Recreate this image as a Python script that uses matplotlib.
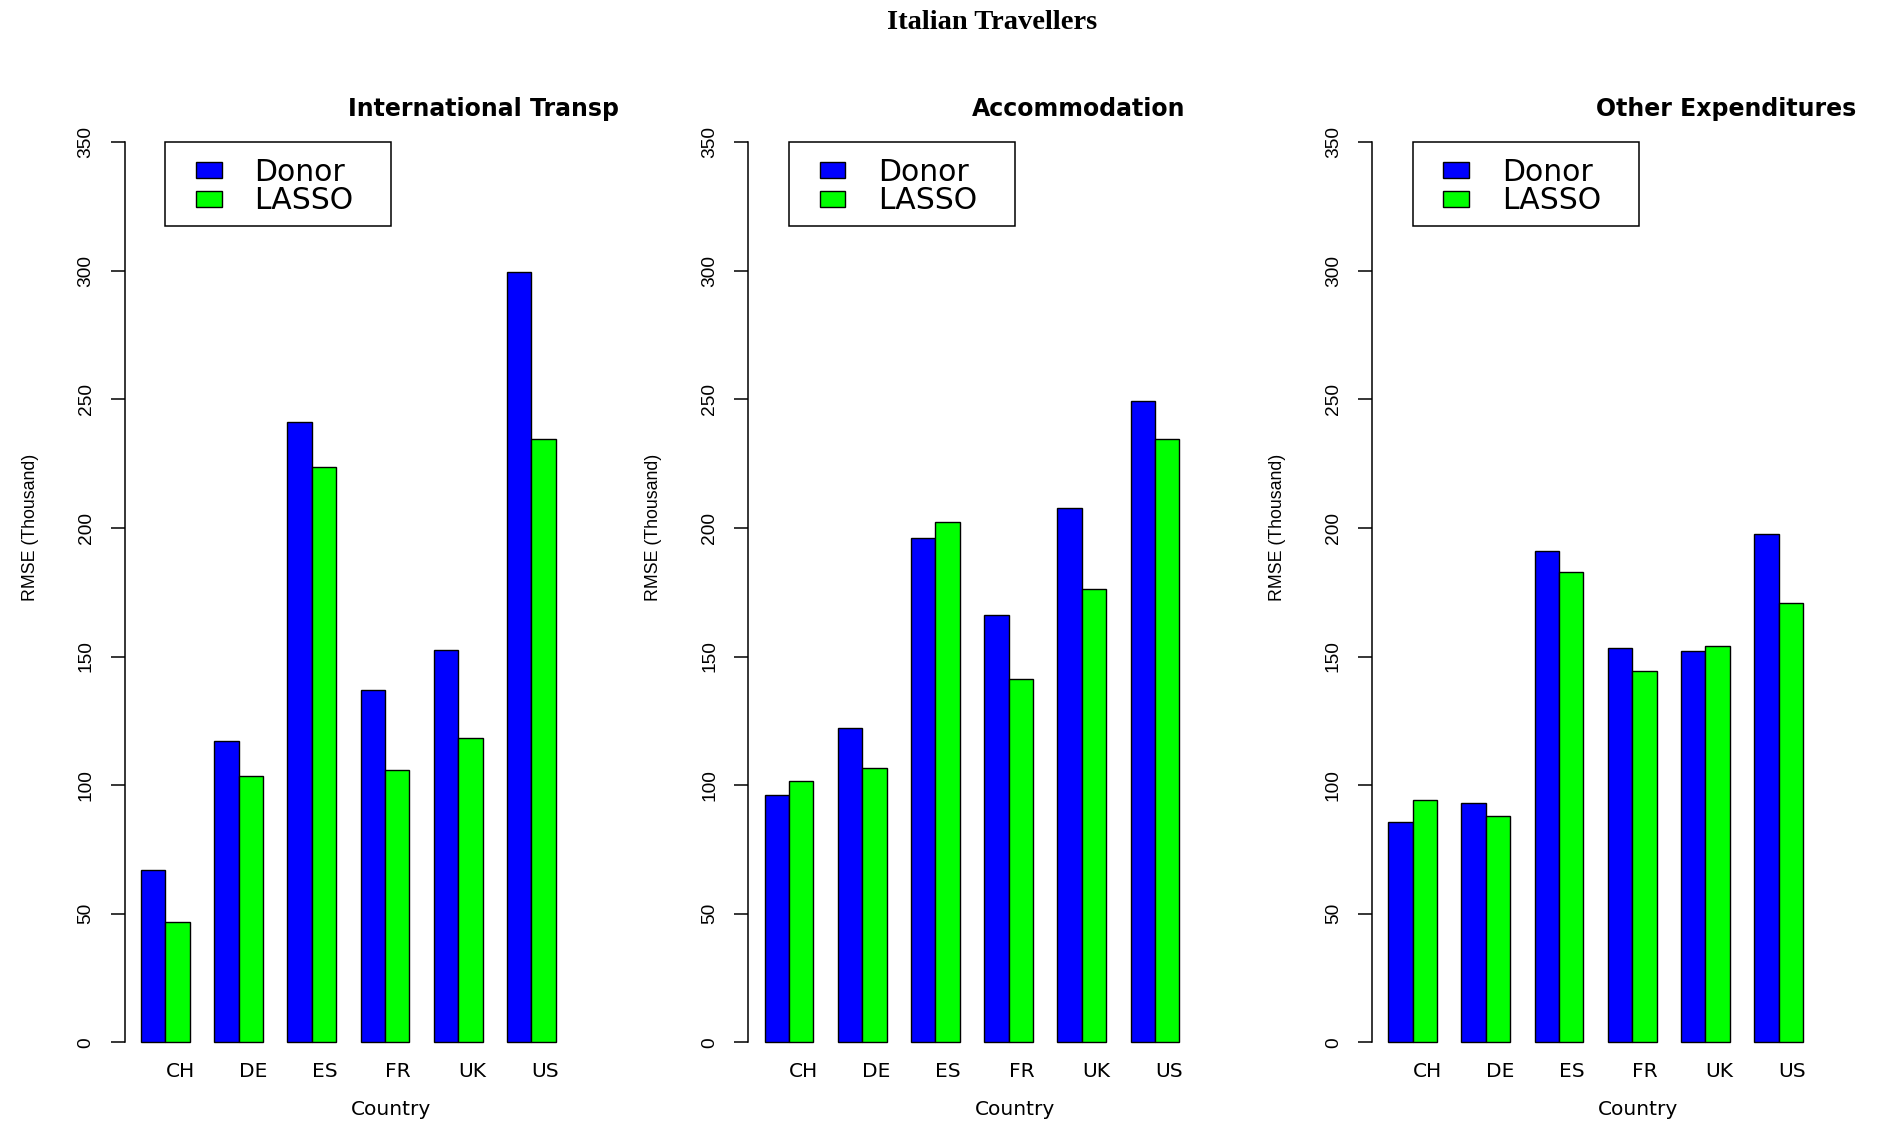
import numpy as np
import matplotlib
matplotlib.use("Agg")
import matplotlib.pyplot as plt
from matplotlib import font_manager
from matplotlib.patches import Rectangle
from matplotlib.transforms import blended_transform_factory

# ---- data -------------------------------------------------------------
countries = ["CH", "DE", "ES", "FR", "UK", "US"]
panel_titles = ["International Transp", "Accommodation", "Other Expenditures"]
series_names = ["Donor", "LASSO"]

transp_donor = [67.0, 117.1, 241.1, 136.9, 152.6, 299.4]
transp_lasso = [46.8, 103.6, 223.5, 105.8, 118.3, 234.7]

accom_donor = [96.2, 122.2, 195.9, 166.1, 207.8, 249.4]
accom_lasso = [101.8, 106.5, 202.1, 141.3, 176.2, 234.7]

other_donor = [85.8, 93.2, 191.1, 153.4, 152.2, 197.8]
other_lasso = [94.2, 88.1, 182.7, 144.3, 153.9, 170.9]

y_ticks = [0, 50, 100, 150, 200, 250, 300, 350]

panels = [
    (panel_titles[0], transp_donor, transp_lasso),
    (panel_titles[1], accom_donor, accom_lasso),
    (panel_titles[2], other_donor, other_lasso),
]

# ---- fonts ------------------------------------------------------------
available = {f.name for f in font_manager.fontManager.ttflist}
narrow = "Liberation Sans Narrow" if "Liberation Sans Narrow" in available else "Liberation Sans"
wide = "DejaVu Sans"
serif = "Liberation Serif"

BLUE = "#0000FF"
GREEN = "#00FF00"

W, H, DPI = 1892, 1122, 100
fig = plt.figure(figsize=(W / DPI, H / DPI), dpi=DPI, facecolor="white")

fig.text(0.5243, 1 - 29.3 / H, "Italian Travellers", ha="center", va="baseline",
         fontsize=20.5, fontweight="bold", family=serif)

ax_w = 447.8 / W
ax_b = 0.03877
ax_h = 0.86684

n = len(countries)
group_start = 1 + 3 * np.arange(n)          # bar-plot layout: 2 bars + 1 gap per group

for i, (title, donor, lasso) in enumerate(panels):
    left = (124.5 + 623.6 * i) / W
    ax = fig.add_axes([left, ax_b, ax_w, ax_h])
    ax.set_facecolor("none")

    b1 = ax.bar(group_start, donor, width=1, align="edge", color=BLUE,
                edgecolor="black", linewidth=1.0, label=series_names[0])
    b2 = ax.bar(group_start + 1, lasso, width=1, align="edge", color=GREEN,
                edgecolor="black", linewidth=1.0, label=series_names[1])

    ax.set_xlim(0.32, 18.68)
    ax.set_ylim(-14, 364)

    for side in ("top", "right", "bottom"):
        ax.spines[side].set_visible(False)
    ax.spines["left"].set_bounds(0, 350)
    ax.spines["left"].set_linewidth(1.1)

    ax.set_xticks([])
    ax.set_yticks(y_ticks)
    ax.set_yticklabels([str(v) for v in y_ticks])
    ax.tick_params(axis="y", direction="out", length=10, width=1.1, pad=11.5,
                   labelrotation=90, labelsize=13.8)
    for lab in ax.get_yticklabels():
        lab.set_family(narrow)
        lab.set_va("center")
        lab.set_ha("right")

    # category labels start at the centre of each group
    for gx, name in zip(group_start + 1, countries):
        ax.text(gx, -13.3, name, ha="left", va="baseline", fontsize=14.5,
                family=wide, clip_on=False)

    tr = blended_transform_factory(ax.transAxes, ax.transData)
    ax.text(0.595, -28.2, "Country", transform=tr, ha="center", va="baseline",
            fontsize=14.5, family=wide, clip_on=False)

    ax.text(-0.211, 0.567, "RMSE (Thousand)", transform=ax.transAxes,
            rotation=90, ha="center", va="center", fontsize=12.8, family=narrow)

    ax.text(0.5, 0.9896, title, transform=ax.transAxes, ha="left",
            va="baseline", fontsize=17, fontweight="bold", family=wide)

    # legend box and entries
    ax.add_patch(Rectangle((0.0913, 0.8769), 0.5047, 0.0856, transform=ax.transAxes,
                           fill=False, edgecolor="black", linewidth=1.1,
                           clip_on=False, zorder=4))
    leg = ax.legend(handles=[b1, b2], loc="upper left",
                    bbox_to_anchor=(0.1597, 0.9464), bbox_transform=ax.transAxes,
                    frameon=False, borderpad=0, borderaxespad=0,
                    handlelength=0.86, handleheight=0.45, handletextpad=1.1,
                    labelspacing=-0.02, prop={"family": wide, "size": 21.5})
    leg.set_zorder(5)

fig.savefig("out.png", dpi=DPI, facecolor="white")
